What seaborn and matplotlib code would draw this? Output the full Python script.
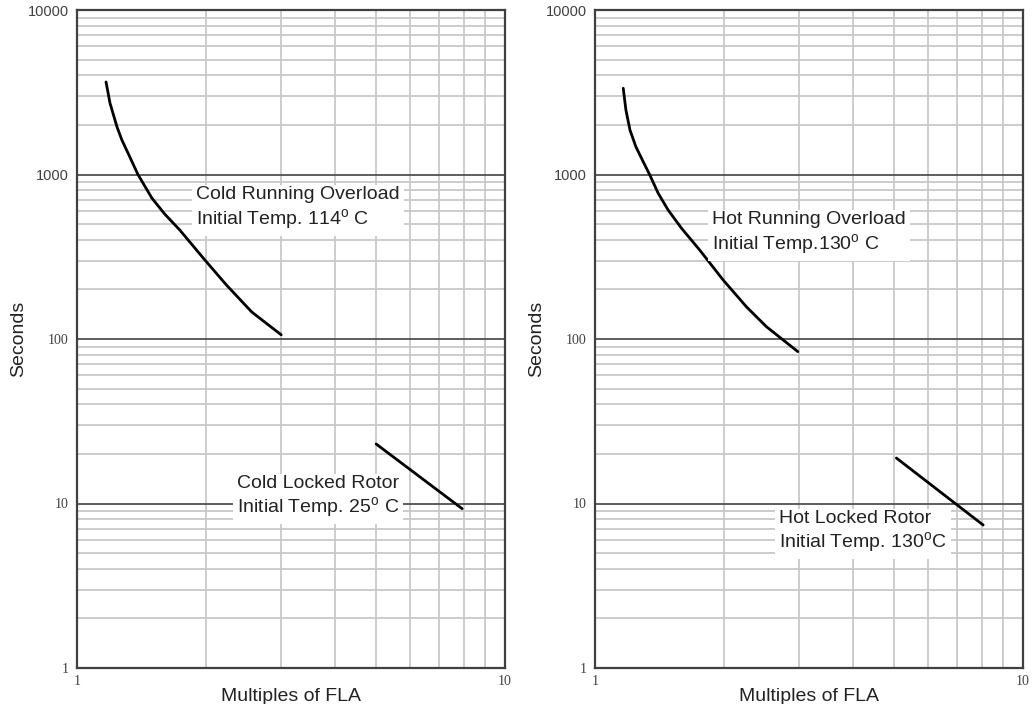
import pandas as pd
import seaborn as sns
import matplotlib
matplotlib.use("Agg")
import matplotlib.pyplot as plt
from matplotlib.ticker import LogLocator, NullFormatter

# curve points (multiples of FLA, seconds)
cold_run_x = [1.169, 1.194, 1.240, 1.273, 1.329, 1.388, 1.496, 1.603, 1.738, 1.99, 2.234, 2.56, 3.0]
cold_run_y = [3650, 2722, 1947, 1622, 1276, 1000, 719, 575, 460, 302, 213, 146, 106]
cold_lock_x = [5.0, 7.94]
cold_lock_y = [23, 9.3]

hot_run_x = [1.164, 1.181, 1.207, 1.246, 1.296, 1.343, 1.405, 1.482, 1.593, 1.757, 1.991, 2.258, 2.513, 2.978]
hot_run_y = [3343, 2466, 1864, 1475, 1196, 993, 769, 608, 471, 347, 229, 157, 119, 83.8]
hot_lock_x = [5.06, 8.07]
hot_lock_y = [18.9, 7.4]

panels = [
    {
        "run": (cold_run_x, cold_run_y),
        "lock": (cold_lock_x, cold_lock_y),
        "run_text": "Cold Running Overload\nInitial Temp. 114$^\\mathrm{o}$ C",
        "run_pos": (1.9, 617),
        "lock_text": "Cold Locked Rotor\nInitial Temp. 25$^\\mathrm{o}$ C",
        "lock_pos": (2.36, 10.9),
    },
    {
        "run": (hot_run_x, hot_run_y),
        "lock": (hot_lock_x, hot_lock_y),
        "run_text": "Hot Running Overload\nInitial Temp.130$^\\mathrm{o}$ C",
        "run_pos": (1.88, 435),
        "lock_text": "Hot Locked Rotor\nInitial Temp. 130$^\\mathrm{o}$C",
        "lock_pos": (2.69, 6.67),
    },
]

sns.set_style("white")
plt.rcParams["font.family"] = ["Liberation Sans", "DejaVu Sans"]
plt.rcParams["mathtext.fontset"] = "custom"
plt.rcParams["mathtext.rm"] = "Liberation Sans"

fig = plt.figure(figsize=(10.34, 7.04), dpi=100)
W, H = 1034, 704
lefts = [77, 595]

for left, p in zip(lefts, panels):
    ax = fig.add_axes([left / W, (704 - 668) / H, 428 / W, 658 / H])
    for key in ("run", "lock"):
        xs, ys = p[key]
        df = pd.DataFrame({"x": xs, "y": ys})
        sns.lineplot(data=df, x="x", y="y", ax=ax, color="black", linewidth=2.0,
                     sort=False, estimator=None)
    ax.set_xscale("log")
    ax.set_yscale("log")
    ax.set_xlim(1, 10)
    ax.set_ylim(1, 10000)

    ax.xaxis.set_minor_locator(LogLocator(base=10, subs=range(2, 10)))
    ax.yaxis.set_minor_locator(LogLocator(base=10, subs=range(2, 10)))
    ax.xaxis.set_minor_formatter(NullFormatter())
    ax.yaxis.set_minor_formatter(NullFormatter())
    ax.grid(which="minor", color="#c8c8c8", linewidth=1.3)
    ax.grid(which="major", axis="y", color="#505050", linewidth=1.3)
    ax.set_axisbelow(True)

    ax.set_xticks([1, 10])
    ax.set_xticklabels(["1", "10"], family="Liberation Serif", fontsize=10, color="#404040")
    ax.set_yticks([1, 10, 100, 1000, 10000])
    ylabs = ax.set_yticklabels(["1", "10", "100", "1000", "10000"], fontsize=10.5, color="#404040")
    for lab in ylabs[:3]:
        lab.set_family("Liberation Serif")
        lab.set_fontsize(10)
    ax.tick_params(axis="y", which="both", length=0, pad=6)
    ax.tick_params(axis="x", which="both", length=0, pad=5)

    for s in ax.spines.values():
        s.set_color("#404040")
        s.set_linewidth(1.6)

    ax.set_xlabel("Multiples of FLA", fontsize=14, color="#222222", labelpad=0)
    ax.set_ylabel("Seconds", fontsize=14, color="#222222", labelpad=0)

    box = dict(facecolor="white", edgecolor="none", pad=3)
    ax.text(*p["run_pos"], p["run_text"], fontsize=14, color="#222222",
            ha="left", va="center", linespacing=1.2, bbox=box)
    ax.text(*p["lock_pos"], p["lock_text"], fontsize=14, color="#222222",
            ha="left", va="center", linespacing=1.2, bbox=box)

fig.savefig("out.png", dpi=100)
